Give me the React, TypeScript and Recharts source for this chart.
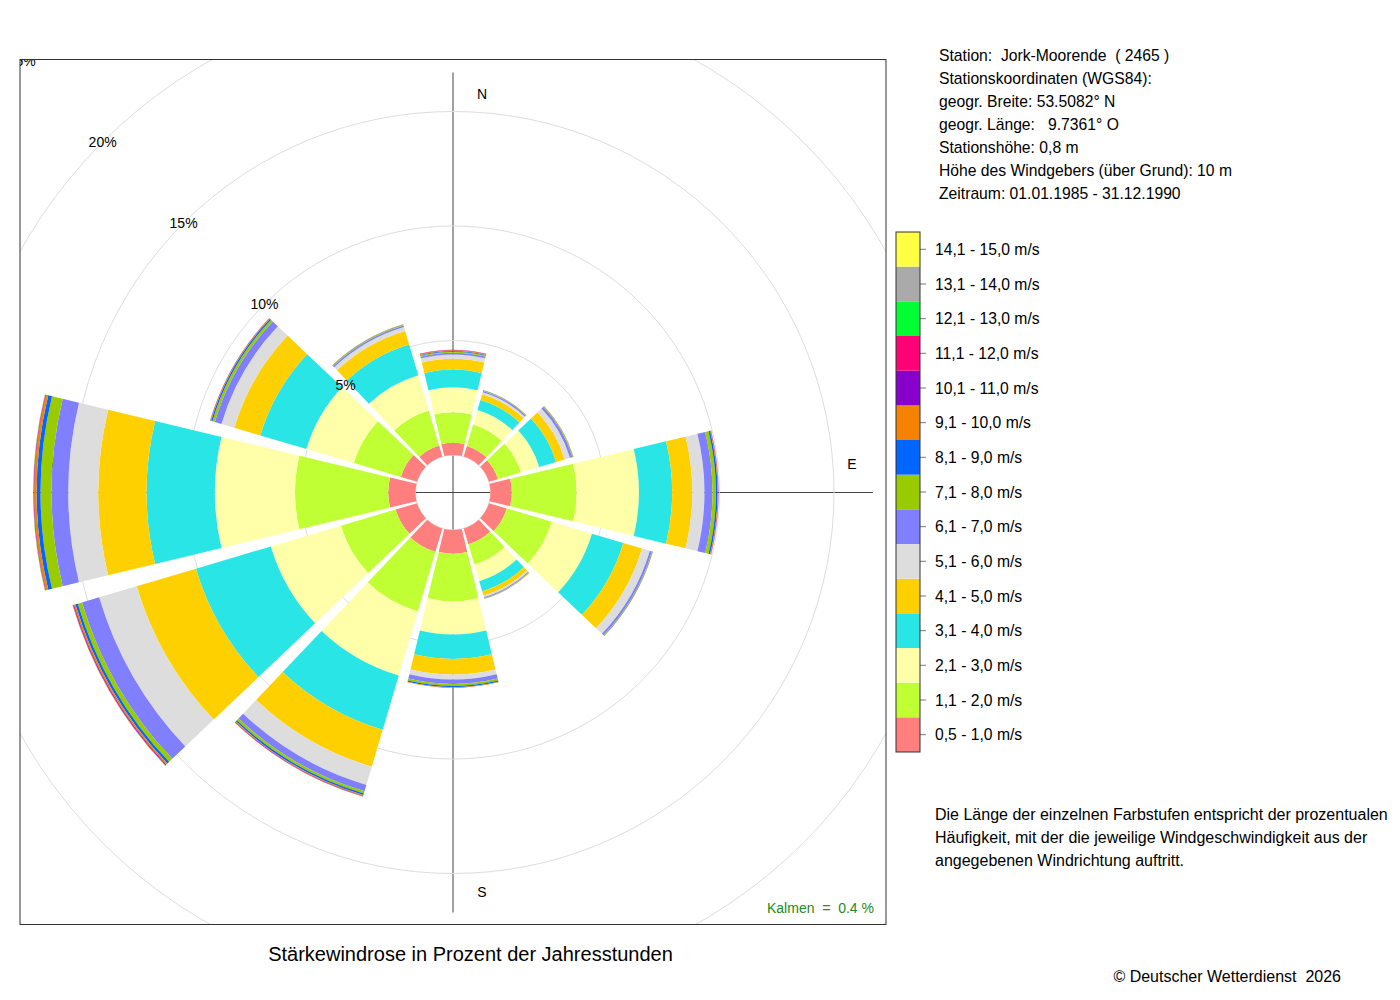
import React from 'react';
import { RadialBarChart, RadialBar, PolarAngleAxis, PolarRadiusAxis, PolarGrid } from 'recharts';

const FONT = '"Liberation Sans", Arial, Helvetica, sans-serif';

// 12 wind directions (30° sectors), clockwise from north
const directions = ['N', 'NNO', 'ONO', 'O', 'OSO', 'SSO', 'S', 'SSW', 'WSW', 'W', 'WNW', 'NNW'];

// speed classes (bottom to top of the legend) and their colours
const speedClasses = [
  '0,5 - 1,0 m/s', '1,1 - 2,0 m/s', '2,1 - 3,0 m/s', '3,1 - 4,0 m/s', '4,1 - 5,0 m/s',
  '5,1 - 6,0 m/s', '6,1 - 7,0 m/s', '7,1 - 8,0 m/s', '8,1 - 9,0 m/s', '9,1 - 10,0 m/s',
  '10,1 - 11,0 m/s', '11,1 - 12,0 m/s', '12,1 - 13,0 m/s', '13,1 - 14,0 m/s', '14,1 - 15,0 m/s',
];
const classColors = [
  '#FF7F7F', '#BFFF33', '#FFFFAA', '#2AE5E5', '#FFD000',
  '#DDDDDD', '#7F7FFF', '#99CC00', '#0066FF', '#F58200',
  '#8800CC', '#FF0077', '#00FF33', '#AAAAAA', '#FFFF44',
];

// percentage of annual hours per direction for each speed class
const v05_10 = [0.53, 0.48, 0.41, 0.93, 0.81, 0.72, 1.04, 1.07, 0.98, 1.19, 0.74, 0.5];
const v11_20 = [1.34, 0.98, 1.05, 2.83, 2.05, 0.92, 2.07, 2.71, 2.49, 4.07, 2.14, 1.6];
const v21_30 = [1.09, 0.66, 0.83, 2.72, 1.83, 0.76, 1.45, 2.92, 3.19, 3.5, 2.16, 1.6];
const v31_40 = [0.77, 0.46, 0.77, 1.45, 1.43, 0.46, 1.07, 2.47, 3.41, 2.98, 2.1, 1.4];
const v41_50 = [0.47, 0.26, 0.39, 0.88, 0.85, 0.2, 0.68, 1.68, 2.7, 2.11, 1.18, 0.62];
const v51_60 = [0.19, 0.09, 0.24, 0.53, 0.36, 0.07, 0.22, 0.83, 1.71, 1.31, 0.59, 0.18];
const v61_70 = [0.07, 0.06, 0.11, 0.35, 0.09, 0.04, 0.19, 0.29, 0.78, 0.73, 0.3, 0.07];
const v71_80 = [0.05, 0.02, 0.03, 0.15, 0.03, 0.02, 0.09, 0.1, 0.19, 0.48, 0.11, 0.03];
const v81_90 = [0.03, 0.01, 0.01, 0.07, 0.01, 0.01, 0.05, 0.07, 0.11, 0.17, 0.06, 0.01];
const v91_100 = [0.03, 0.01, 0.01, 0.03, 0.01, 0.005, 0.02, 0.04, 0.07, 0.11, 0.03, 0.01];
const v101_110 = [0.01, 0, 0, 0.01, 0, 0, 0.005, 0.02, 0.03, 0.02, 0.01, 0];
const v111_120 = [0.01, 0, 0, 0.005, 0, 0, 0, 0.01, 0.02, 0.01, 0.005, 0];
const v121_130 = [0, 0, 0, 0, 0, 0, 0, 0.005, 0.01, 0.01, 0, 0];
const v131_140 = [0, 0, 0, 0, 0, 0, 0, 0, 0.005, 0.005, 0, 0];
const v141_150 = [0, 0, 0, 0, 0, 0, 0, 0, 0, 0.003, 0, 0];

const classValues = [
  v05_10, v11_20, v21_30, v31_40, v41_50, v51_60, v61_70, v71_80,
  v81_90, v91_100, v101_110, v111_120, v121_130, v131_140, v141_150,
];

const radiusTicks = [0, 5, 10, 15, 20, 25];
const compassLabels = ['N', 'E', 'S', 'W'];

const stationInfo = [
  'Station:  Jork-Moorende  ( 2465 )',
  'Stationskoordinaten (WGS84):',
  'geogr. Breite: 53.5082° N',
  'geogr. Länge:   9.7361° O',
  'Stationshöhe: 0,8 m',
  'Höhe des Windgebers (über Grund): 10 m',
  'Zeitraum: 01.01.1985 - 31.12.1990',
];
const noteLines = [
  'Die Länge der einzelnen Farbstufen entspricht der prozentualen',
  'Häufigkeit, mit der die jeweilige Windgeschwindigkeit aus der',
  'angegebenen Windrichtung auftritt.',
];
const calmText = 'Kalmen  =  0.4 %';
const titleText = 'Stärkewindrose in Prozent der Jahresstunden';
const copyrightText = '© Deutscher Wetterdienst  2026';

const data = directions.map((dir, i) => {
  const row: Record<string, number | string> = { dir };
  classValues.forEach((vals, k) => {
    row['c' + k] = vals[i];
  });
  return row;
});

// geometry
const PLOT_LEFT = 20;
const PLOT_TOP = 59;
const PLOT_SIZE = 866;
const CX = 433;
const CY = 433.5;
const INNER_R = 37.5;
const PX_PER_PCT = 22.9;
const OUTER_R = INNER_R + 25 * PX_PER_PCT;
const CROSS_R = 420;
const LABEL_R = 399;

const LEG_X = 896;
const LEG_TOP = 232;
const LEG_W = 24;
const LEG_H = 520;

const RadiusTick = (props: any) => {
  const { x, y, payload } = props;
  if (!payload || payload.value === 0) return <g />;
  return (
    <text x={x} y={y} textAnchor="middle" dominantBaseline="central" fontSize={14} fontFamily={FONT} fill="#000">
      {payload.value}%
    </text>
  );
};

export default function App() {
  const gx = PLOT_LEFT + CX;
  const gy = PLOT_TOP + CY;
  const segH = LEG_H / speedClasses.length;
  const compassPos = [
    { x: gx + 29, y: gy - LABEL_R },
    { x: gx + LABEL_R, y: gy - 29 },
    { x: gx + 29, y: gy + LABEL_R },
    { x: gx - LABEL_R, y: gy - 29 },
  ];
  return (
    <div style={{ position: 'absolute', left: 0, top: 0, width: 1400, height: 1000, background: '#fff', overflow: 'hidden' }}>
      <svg width={1400} height={1000} style={{ position: 'absolute', left: 0, top: 0 }}>
        <line x1={gx} y1={gy - CROSS_R} x2={gx} y2={gy + CROSS_R} stroke="#444" strokeWidth={1} />
        <line x1={gx - CROSS_R} y1={gy} x2={gx + CROSS_R} y2={gy} stroke="#444" strokeWidth={1} />
        {compassLabels.map((l, i) => (
          <text key={l} x={compassPos[i].x} y={compassPos[i].y} textAnchor="middle" dominantBaseline="central" fontSize={14} fontFamily={FONT} fill="#000">
            {l}
          </text>
        ))}
        {speedClasses.map((label, k) => {
          const yTop = LEG_TOP + LEG_H - (k + 1) * segH;
          const yc = yTop + segH / 2;
          return (
            <g key={label}>
              <rect x={LEG_X} y={yTop} width={LEG_W} height={segH} fill={classColors[k]} />
              <line x1={LEG_X + LEG_W} y1={yc} x2={LEG_X + LEG_W + 6} y2={yc} stroke="#777" strokeWidth={1} />
              <text x={935} y={yc} dominantBaseline="central" fontSize={15.7} fontFamily={FONT} fill="#000">
                {label}
              </text>
            </g>
          );
        })}
        <rect x={LEG_X} y={LEG_TOP} width={LEG_W} height={LEG_H} fill="none" stroke="#333" strokeWidth={1} />
        {stationInfo.map((t, i) => (
          <text key={i} x={939} y={55 + 23 * i} dominantBaseline="central" fontSize={15.7} fontFamily={FONT} fill="#000" style={{ whiteSpace: 'pre' }}>
            {t}
          </text>
        ))}
        {noteLines.map((t, i) => (
          <text key={i} x={935} y={814 + 23 * i} dominantBaseline="central" fontSize={16} fontFamily={FONT} fill="#000">
            {t}
          </text>
        ))}
        <text x={470.5} y={954} textAnchor="middle" dominantBaseline="central" fontSize={20} fontFamily={FONT} fill="#000">
          {titleText}
        </text>
        <text x={1341} y={976} textAnchor="end" dominantBaseline="central" fontSize={16} fontFamily={FONT} fill="#000" style={{ whiteSpace: 'pre' }}>
          {copyrightText}
        </text>
        <text x={874} y={908} textAnchor="end" dominantBaseline="central" fontSize={14} fontFamily={FONT} fill="#228B22" style={{ whiteSpace: 'pre' }}>
          {calmText}
        </text>
      </svg>
      <div style={{ position: 'absolute', left: PLOT_LEFT, top: PLOT_TOP, width: PLOT_SIZE, height: PLOT_SIZE, overflow: 'hidden' }}>
        <RadialBarChart
          width={PLOT_SIZE}
          height={PLOT_SIZE}
          data={data}
          cx={CX}
          cy={CY}
          innerRadius={INNER_R}
          outerRadius={OUTER_R}
          startAngle={75}
          endAngle={-285}
          layout="centric"
          barCategoryGap="5%"
          margin={{ top: 0, right: 0, bottom: 0, left: 0 }}
        >
          <PolarGrid gridType="circle" radialLines={false} stroke="#dddddd" />
          <PolarAngleAxis dataKey="dir" type="category" tick={false} axisLine={false} tickLine={false} />
          {classValues.map((_, k) => (
            <RadialBar key={k} dataKey={'c' + k} stackId="wind" fill={classColors[k]} isAnimationActive={false} />
          ))}
          <PolarRadiusAxis
            type="number"
            domain={[0, 25]}
            ticks={radiusTicks}
            angle={135}
            axisLine={false}
            tickLine={false}
            tick={RadiusTick}
          />
        </RadialBarChart>
      </div>
      <svg width={1400} height={1000} style={{ position: 'absolute', left: 0, top: 0, pointerEvents: 'none' }}>
        <rect x={PLOT_LEFT} y={PLOT_TOP + 0.5} width={PLOT_SIZE} height={PLOT_SIZE - 1} fill="none" stroke="#333" strokeWidth={1} />
      </svg>
    </div>
  );
}
